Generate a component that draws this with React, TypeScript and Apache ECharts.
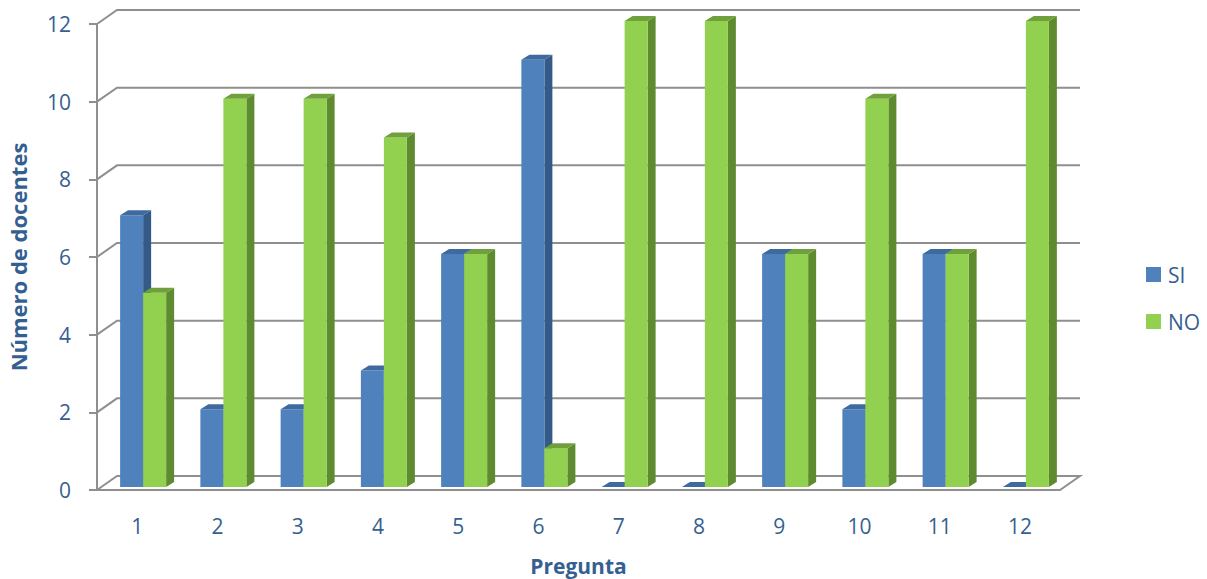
import React, { useEffect, useRef } from "react";
import * as echarts from "echarts";

const categories = ["1", "2", "3", "4", "5", "6", "7", "8", "9", "10", "11", "12"];
const siValues = [7, 2, 2, 3, 6, 11, 0, 0, 6, 2, 6, 0];
const noValues = [5, 10, 10, 9, 6, 1, 12, 12, 6, 10, 6, 12];
const yTicks = [0, 2, 4, 6, 8, 10, 12];

const TEXT = "#365f91";
const GRID = "#8f8f8f";
const FONT = "'Open Sans', 'Noto Sans', sans-serif";

const BAR_COLORS = [
  { front: "#4f81bd", side: "#345a88", top: "#3e6aa0" },
  { front: "#92d050", side: "#5f8b30", top: "#70a03c" },
];

// depth geometry (pixels)
const WALL_DX = 20;
const WALL_DY = -14;
const BAR_SHIFT_DX = 0;
const BAR_SHIFT_DY = -3;
const BAR_W = 23;
const BAR_DX = 8;
const BAR_DY = -5;

function makeBarRender(s: number) {
  return (params: any, api: any) => {
    const i = api.value(0);
    const v = api.value(1);
    const top = api.coord([i, v]);
    const base = api.coord([i, 0]);
    const cx = top[0];
    const xl = cx - 17 + BAR_SHIFT_DX + s * BAR_W;
    const xr = xl + BAR_W;
    const yt = top[1] + BAR_SHIFT_DY;
    const yb = base[1] + BAR_SHIFT_DY;
    const c = BAR_COLORS[s];
    const children: any[] = [];
    if (yb - yt > 0.5) {
      children.push({
        type: "polygon",
        shape: { points: [[xr, yt], [xr + BAR_DX, yt + BAR_DY], [xr + BAR_DX, yb + BAR_DY], [xr, yb]] },
        style: { fill: c.side },
      });
      children.push({
        type: "rect",
        shape: { x: xl, y: yt, width: BAR_W, height: yb - yt },
        style: { fill: c.front },
      });
    }
    children.push({
      type: "polygon",
      shape: { points: [[xl, yt], [xr, yt], [xr + BAR_DX, yt + BAR_DY], [xl + BAR_DX, yt + BAR_DY]] },
      style: { fill: c.top },
    });
    return { type: "group", children };
  };
}

function renderGrid(params: any, api: any) {
  const v = api.value(1);
  const cs = params.coordSys;
  const x0 = cs.x;
  const x1 = cs.x + cs.width;
  const y = api.coord([0, v])[1];
  if (v === 0) {
    return {
      type: "polygon",
      shape: { points: [[x0, y], [x0 + WALL_DX, y + WALL_DY], [x1 + WALL_DX, y + WALL_DY], [x1, y]] },
      style: { fill: "#ffffff", stroke: GRID, lineWidth: 2 },
    };
  }
  return {
    type: "polyline",
    shape: { points: [[x0, y], [x0 + WALL_DX, y + WALL_DY], [x1 + WALL_DX, y + WALL_DY]] },
    style: { fill: "none", stroke: GRID, lineWidth: 2 },
  };
}

export default function App() {
  const ref = useRef<HTMLDivElement>(null);
  useEffect(() => {
    if (!ref.current) return;
    const chart = echarts.init(ref.current, null, { renderer: "svg" });
    chart.setOption({
      animation: false,
      backgroundColor: "#ffffff",
      textStyle: { fontFamily: FONT },
      grid: { left: 97, top: 24, width: 963, height: 466, containLabel: false, outerBoundsMode: "none" },
      legend: {
        orient: "vertical",
        left: 1141,
        top: 259,
        itemWidth: 15,
        itemHeight: 15,
        itemGap: 26,
        icon: "rect",
        data: ["SI", "NO"],
        textStyle: { color: TEXT, fontSize: 21, fontFamily: FONT, padding: [0, 0, 0, 2] },
      },
      xAxis: {
        type: "category",
        data: categories,
        axisLine: { show: false },
        axisTick: { show: false },
        splitLine: { show: false },
        axisLabel: { color: TEXT, fontSize: 21, fontFamily: FONT, margin: 25 },
        name: "Pregunta",
        nameLocation: "middle",
        nameGap: 65,
        nameTextStyle: { color: TEXT, fontSize: 21, fontWeight: "bold", fontFamily: FONT },
      },
      yAxis: {
        type: "value",
        min: 0,
        max: 12,
        interval: 2,
        axisLine: { show: true, lineStyle: { color: GRID, width: 2 } },
        axisTick: { show: true, length: 8, lineStyle: { color: GRID, width: 2 } },
        splitLine: { show: false },
        axisLabel: { color: TEXT, fontSize: 21, fontFamily: FONT, margin: 26 },
        name: "Número de docentes",
        nameLocation: "middle",
        nameRotate: 90,
        nameGap: 68,
        nameTextStyle: { color: TEXT, fontSize: 22, fontWeight: "bold", fontFamily: FONT },
      },
      series: [
        {
          type: "custom",
          name: "grid3d",
          z: 1,
          silent: true,
          renderItem: renderGrid,
          data: yTicks.map((v) => [0, v]),
        },
        {
          type: "custom",
          name: "SI",
          z: 2,
          itemStyle: { color: BAR_COLORS[0].front },
          renderItem: makeBarRender(0),
          data: siValues.map((v, i) => [i, v]),
        },
        {
          type: "custom",
          name: "NO",
          z: 3,
          itemStyle: { color: BAR_COLORS[1].front },
          renderItem: makeBarRender(1),
          data: noValues.map((v, i) => [i, v]),
        },
      ],
    });
    return () => chart.dispose();
  }, []);
  return (
    <div
      ref={ref}
      style={{ position: "fixed", left: 0, top: 0, width: 1207, height: 579 }}
    />
  );
}
